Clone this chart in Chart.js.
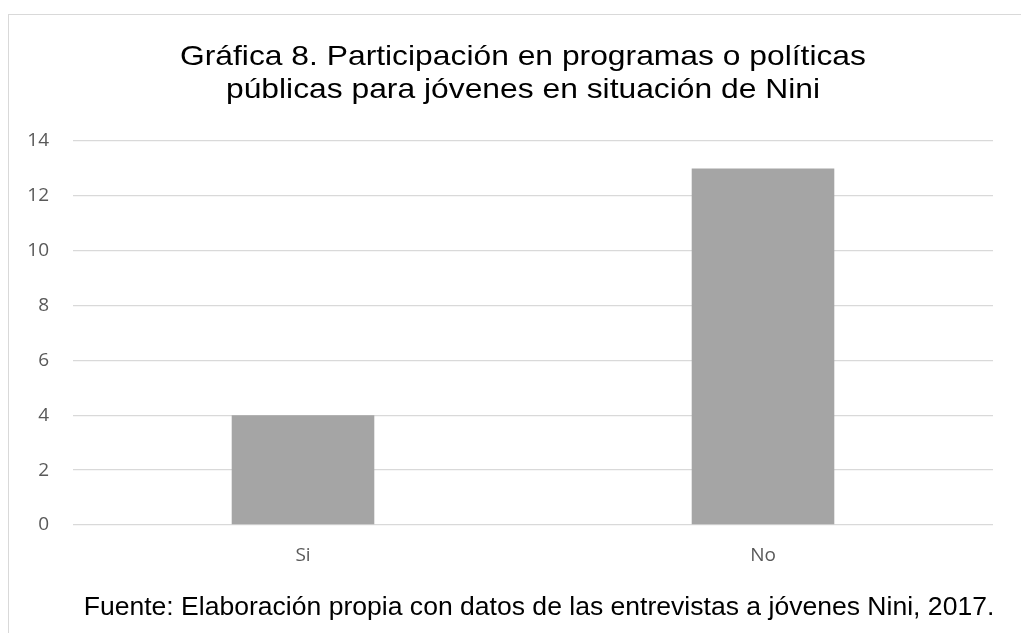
<!DOCTYPE html>
<html>
<head>
<meta charset="utf-8">
<script src="https://cdn.jsdelivr.net/npm/chart.js@4"></script>
<style>
  html, body { margin: 0; padding: 0; background: #fff; overflow: hidden; }
  #frame {
    position: absolute; left: 8px; top: 14px; width: 1030px; height: 640px;
    border: 1px solid #d9d9d9; box-sizing: border-box;
  }
  #wrap { position: absolute; left: 0; top: 0; width: 1021px; height: 633px; }
  .txt {
    position: absolute; text-align: center; color: #000; white-space: nowrap;
    font-family: 'Liberation Sans', Arial, sans-serif; transform-origin: 50% 0;
  }
  #title { left: 122.5px; width: 800px; top: 39px; font-size: 28px; line-height: 33px; transform: scaleX(1.136); }
  #note { left: 38.5px; width: 1000px; top: 591px; font-size: 25px; line-height: 30px; transform: scaleX(1.062); }
</style>
</head>
<body>
<div id="frame"></div>
<div id="wrap"><canvas id="chart" width="1021" height="633"></canvas></div>
<div id="title" class="txt"></div>
<div id="note" class="txt"></div>
<script>
const categories = ['Si', 'No'];
const values = [4, 13];
const yTicks = [0, 2, 4, 6, 8, 10, 12, 14];
const titleLines = ['Gráfica 8. Participación en programas o políticas', 'públicas para jóvenes en situación de Nini'];
const sourceNote = 'Fuente: Elaboración propia con datos de las entrevistas a jóvenes Nini, 2017.';

document.getElementById('title').innerHTML = titleLines.join('<br>');
document.getElementById('note').textContent = sourceNote;

const tickFont = { family: 'Open Sans, sans-serif', size: 19 };

const ctx = document.getElementById('chart').getContext('2d');
new Chart(ctx, {
  type: 'bar',
  data: {
    labels: categories,
    datasets: [{
      data: values,
      backgroundColor: '#a5a5a5',
      categoryPercentage: 1,
      barPercentage: 0.31,
    }],
  },
  options: {
    responsive: false,
    animation: false,
    layout: { padding: { left: 20, right: 28, top: 141, bottom: 66 } },
    plugins: {
      legend: { display: false },
      tooltip: { enabled: false },
    },
    scales: {
      x: {
        afterFit: (s) => { s.height = 42; },
        grid: { display: false, drawTicks: false },
        border: { display: false },
        ticks: { color: '#595959', font: tickFont, padding: 19 },
      },
      y: {
        min: 0,
        max: 14,
        afterBuildTicks: (s) => { s.ticks = yTicks.map(v => ({ value: v })); },
        afterFit: (s) => { s.width = 53; },
        grid: { color: '#d9d9d9', lineWidth: 1.3, drawTicks: false },
        border: { display: false },
        ticks: { color: '#595959', font: tickFont, padding: 24 },
      },
    },
  },
});
</script>
</body>
</html>
